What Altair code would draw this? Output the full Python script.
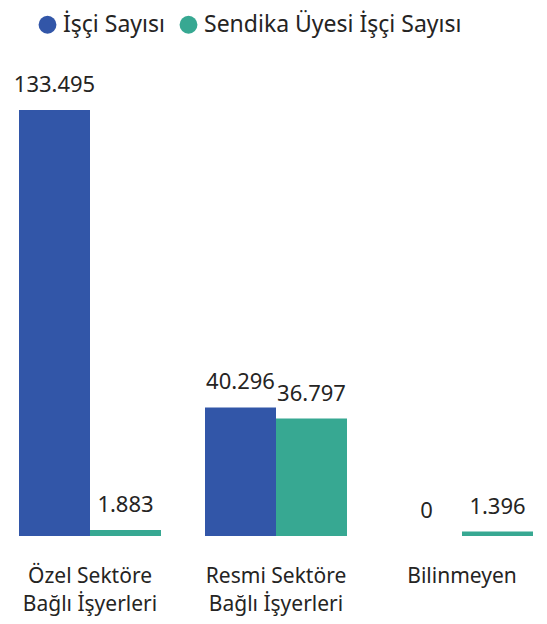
import altair as alt
import pandas as pd

categories = ["Özel Sektöre\nBağlı İşyerleri", "Resmi Sektöre\nBağlı İşyerleri", "Bilinmeyen"]
series = ["İşçi Sayısı", "Sendika Üyesi İşçi Sayısı"]
isci_sayisi = [133495, 40296, 0]
sendika_uyesi = [1883, 36797, 1396]
colors = ["#3256A8", "#37A892"]

rows = []
for i, c in enumerate(categories):
    for s, vals in zip(series, [isci_sayisi, sendika_uyesi]):
        v = vals[i]
        rows.append({"cat": c, "series": s, "value": v,
                     "label": f"{v:,}".replace(",", ".")})
df = pd.DataFrame(rows)

FONT = "Noto Sans"

x = alt.X("cat:N", sort=categories, title=None,
          scale=alt.Scale(paddingInner=0.2366, paddingOuter=0),
          axis=alt.Axis(labelExpr="split(datum.label, '\\n')", labelAngle=0,
                        domain=False, ticks=False, labelFontSize=21,
                        labelFont=FONT, labelColor="#252423", labelPadding=29,
                        labelLineHeight=28, labelLimit=0))
xo = alt.XOffset("series:N", sort=series, scale=alt.Scale(paddingInner=0, paddingOuter=0))
y = alt.Y("value:Q", scale=alt.Scale(domain=[0, 133495], nice=False, zero=True), axis=None)

bars = alt.Chart(df).mark_bar().encode(
    x=x, xOffset=xo, y=y,
    color=alt.Color("series:N", sort=series,
                    scale=alt.Scale(domain=series, range=colors),
                    legend=alt.Legend(title=None, orient="none", legendX=17, legendY=-97,
                                      direction="horizontal", symbolType="circle",
                                      symbolSize=320, symbolStrokeWidth=0,
                                      labelFontSize=23, labelFont=FONT, labelLimit=0,
                                      labelColor="#252423", labelOffset=4,
                                      columnPadding=12)),
)

text = alt.Chart(df).mark_text(baseline="alphabetic", dy=-18, fontSize=22,
                               font=FONT, color="#252423").encode(
    x=x, xOffset=xo, y=y, text="label:N"
)

chart = alt.layer(bars, text).properties(
    width=514, height=426,
    autosize=alt.AutoSizeParams(type="none"),
    padding={"left": 11, "top": 102, "right": 6, "bottom": 80},
).configure_view(stroke=None)

chart.save("out.html", embed_options={"renderer": "svg", "actions": False})
